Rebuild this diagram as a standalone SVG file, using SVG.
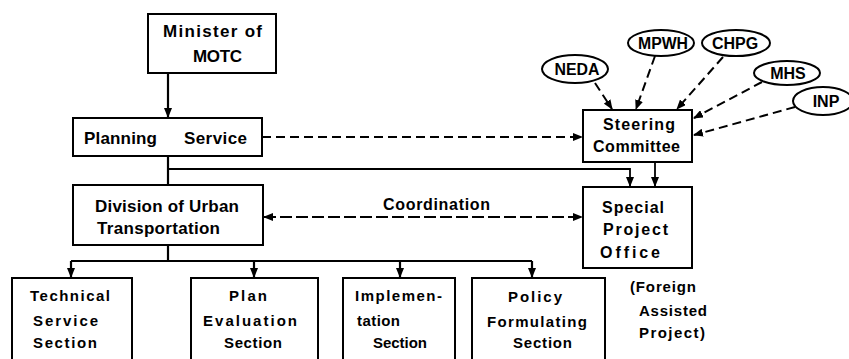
<svg xmlns="http://www.w3.org/2000/svg" width="849" height="359" viewBox="0 0 849 359">
<style>
.box{fill:#fff;stroke:#000;stroke-width:2}
.ell{fill:#fff;stroke:#000;stroke-width:2}
text{font-family:"Liberation Sans",Arial,sans-serif;font-weight:bold;fill:#000}
.t17{font-size:17px}
.t16{font-size:16px}
.t15{font-size:15px}
.solid{fill:none;stroke:#000;stroke-width:2.2}
.dash{fill:none;stroke:#000;stroke-width:2;stroke-dasharray:9 5}
</style>
<defs>
<marker id="arr" markerUnits="userSpaceOnUse" markerWidth="10" markerHeight="8" refX="9" refY="4" orient="auto">
<path d="M0,0 L10,4 L0,8 z" fill="#000"/>
</marker>
<marker id="arrs" markerUnits="userSpaceOnUse" markerWidth="10" markerHeight="8" refX="9" refY="4" orient="auto-start-reverse">
<path d="M0,0 L10,4 L0,8 z" fill="#000"/>
</marker>
</defs>
<rect width="849" height="359" fill="#fff"/>

<g id="connectors">
<line class="solid" x1="168" y1="73" x2="168" y2="117" marker-end="url(#arr)"/>
<line class="dash" x1="262" y1="137" x2="582" y2="137" marker-end="url(#arr)"/>
<line class="solid" x1="168" y1="156" x2="168" y2="185"/>
<polyline class="solid" points="168,169 630,169 630,186" marker-end="url(#arr)" style="stroke-width:1.8"/>
<line class="solid" x1="655" y1="162" x2="655" y2="186" marker-end="url(#arr)" style="stroke-width:1.8"/>
<line class="dash" x1="264" y1="217" x2="582" y2="217" marker-start="url(#arrs)" marker-end="url(#arrs)" style="stroke-dasharray:12 4"/>
<line class="solid" x1="168" y1="245" x2="168" y2="261"/>
<line class="solid" x1="71" y1="261" x2="532" y2="261" style="stroke-width:2"/>
<line class="solid" x1="71" y1="261" x2="71" y2="277" marker-end="url(#arr)"/>
<line class="solid" x1="254" y1="261" x2="254" y2="277" marker-end="url(#arr)"/>
<line class="solid" x1="400" y1="261" x2="400" y2="277" marker-end="url(#arr)"/>
<line class="solid" x1="532" y1="261" x2="532" y2="277" marker-end="url(#arr)"/>
<line class="dash" x1="595" y1="83" x2="612" y2="109" marker-end="url(#arr)"/>
<line class="dash" x1="655" y1="56" x2="636" y2="109" marker-end="url(#arr)"/>
<line class="dash" x1="723" y1="57" x2="677" y2="109" marker-end="url(#arr)"/>
<line class="dash" x1="762" y1="82" x2="694" y2="118" marker-end="url(#arr)"/>
<line class="dash" x1="795" y1="107" x2="694" y2="135" marker-end="url(#arr)"/>
</g>

<g id="minister">
<rect class="box" x="148" y="14" width="128" height="59"/>
<text class="t17" x="163" y="37" textLength="99" lengthAdjust="spacing">Minister  of</text>
<text class="t17" x="193" y="62" textLength="49" lengthAdjust="spacing">MOTC</text>
</g>

<g id="planning">
<rect class="box" x="73" y="118" width="189" height="38"/>
<text class="t17" x="84" y="144" textLength="73" lengthAdjust="spacing">Planning</text>
<text class="t17" x="184" y="144" textLength="63" lengthAdjust="spacing">Service</text>
</g>

<g id="steering">
<rect class="box" x="583" y="110" width="109" height="52"/>
<text class="t16" x="603" y="130" textLength="72" lengthAdjust="spacing">Steering</text>
<text class="t16" x="593" y="152" textLength="87" lengthAdjust="spacing">Committee</text>
</g>

<g id="neda">
<ellipse class="ell" cx="575" cy="69" rx="33" ry="14"/>
<text class="t16" x="577" y="75" text-anchor="middle" textLength="45" lengthAdjust="spacingAndGlyphs">NEDA</text>
</g>
<g id="mpwh">
<ellipse class="ell" cx="661" cy="43" rx="33" ry="13"/>
<text class="t16" x="663" y="49" text-anchor="middle" textLength="50" lengthAdjust="spacingAndGlyphs">MPWH</text>
</g>
<g id="chpg">
<ellipse class="ell" cx="736" cy="43" rx="34" ry="13"/>
<text class="t16" x="735" y="49" text-anchor="middle">CHPG</text>
</g>
<g id="mhs">
<ellipse class="ell" cx="787" cy="73" rx="33" ry="12"/>
<text class="t16" x="788" y="79" text-anchor="middle">MHS</text>
</g>
<g id="inp">
<ellipse class="ell" cx="823" cy="101" rx="30" ry="14"/>
<text class="t16" x="826" y="107" text-anchor="middle">INP</text>
</g>

<g id="division">
<rect class="box" x="73" y="185" width="190" height="60"/>
<text class="t17" x="95" y="212" textLength="144" lengthAdjust="spacing">Division  of  Urban</text>
<text class="t17" x="97" y="234" textLength="123" lengthAdjust="spacing">Transportation</text>
</g>

<g id="coordination-label">
<text class="t16" x="383" y="210" textLength="107" lengthAdjust="spacing">Coordination</text>
</g>

<g id="spo">
<rect class="box" x="583" y="187" width="109" height="81"/>
<text class="t16" x="602" y="213" textLength="62" lengthAdjust="spacing">Special</text>
<text class="t16" x="603" y="235" textLength="65" lengthAdjust="spacing">Project</text>
<text class="t16" x="600" y="258" textLength="60" lengthAdjust="spacing">Office</text>
</g>

<g id="foreign">
<text class="t15" x="630" y="292" textLength="66" lengthAdjust="spacing">(Foreign</text>
<text class="t15" x="639" y="316" textLength="68" lengthAdjust="spacing">Assisted</text>
<text class="t15" x="639" y="338" textLength="66" lengthAdjust="spacing">Project)</text>
</g>

<g id="technical">
<rect class="box" x="12" y="278" width="120" height="95"/>
<text class="t15" x="30" y="301" textLength="80" lengthAdjust="spacing">Technical</text>
<text class="t15" x="33" y="326" textLength="65" lengthAdjust="spacing">Service</text>
<text class="t15" x="33" y="348" textLength="64" lengthAdjust="spacing">Section</text>
</g>

<g id="plan">
<rect class="box" x="191" y="278" width="127" height="95"/>
<text class="t15" x="229" y="301" textLength="38" lengthAdjust="spacing">Plan</text>
<text class="t15" x="203" y="326" textLength="94" lengthAdjust="spacing">Evaluation</text>
<text class="t15" x="224" y="348" textLength="58" lengthAdjust="spacing">Section</text>
</g>

<g id="implementation">
<rect class="box" x="343" y="278" width="112" height="95"/>
<text class="t15" x="355" y="301" textLength="87" lengthAdjust="spacing">Implemen-</text>
<text class="t15" x="357" y="326" textLength="43" lengthAdjust="spacing">tation</text>
<text class="t15" x="373" y="348" textLength="54" lengthAdjust="spacing">Section</text>
</g>

<g id="policy">
<rect class="box" x="472" y="278" width="133" height="95"/>
<text class="t15" x="508" y="302" textLength="54" lengthAdjust="spacing">Policy</text>
<text class="t15" x="487" y="327" textLength="100" lengthAdjust="spacing">Formulating</text>
<text class="t15" x="513" y="348" textLength="59" lengthAdjust="spacing">Section</text>
</g>
</svg>
